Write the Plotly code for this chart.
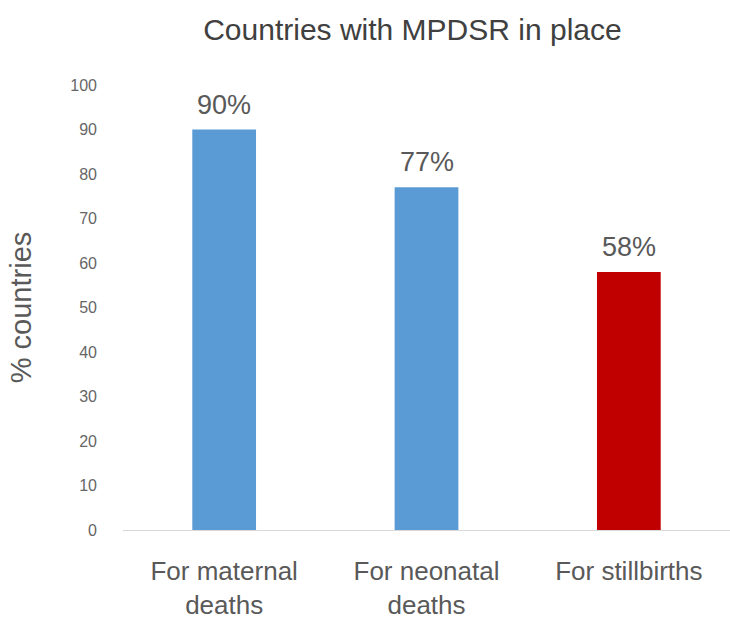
import plotly.graph_objects as go

categories = ["For maternal<br>deaths", "For neonatal<br>deaths", "For stillbirths"]
values = [90, 77, 58]
labels = ["90%", "77%", "58%"]
colors = ["#5B9BD5", "#5B9BD5", "#C00000"]
y_ticks = [0, 10, 20, 30, 40, 50, 60, 70, 80, 90, 100]

FONT = "Liberation Sans, Arial, sans-serif"
TEXT = "#595959"

fig = go.Figure(
    go.Bar(
        x=categories,
        y=values,
        marker=dict(color=colors, line=dict(width=0)),
        width=0.315,
        hoverinfo="x+y",
    )
)

# value labels above each bar
for cat, val, lab in zip(categories, values, labels):
    fig.add_annotation(
        x=cat,
        y=val,
        text=lab,
        showarrow=False,
        yanchor="bottom",
        yshift=8,
        font=dict(family=FONT, size=27, color=TEXT),
    )

fig.update_layout(
    width=730,
    height=624,
    margin=dict(l=123, r=0, t=85, b=94),
    paper_bgcolor="white",
    plot_bgcolor="white",
    showlegend=False,
    title=dict(
        text="Countries with MPDSR in place",
        x=0.565,
        xanchor="center",
        yref="container",
        y=1 - 29 / 624,
        yanchor="middle",
        font=dict(family=FONT, size=30, color="#404040"),
    ),
    font=dict(family=FONT, color=TEXT),
)

fig.update_yaxes(
    range=[0, 100],
    tickvals=y_ticks,
    showgrid=False,
    zeroline=False,
    showline=False,
    ticks="",
    ticklabelstandoff=25,
    tickfont=dict(family=FONT, size=16, color="#666666"),
    title=dict(text="% countries", font=dict(family=FONT, size=29, color=TEXT), standoff=30),
)

fig.update_xaxes(
    showgrid=False,
    showline=True,
    linecolor="#D9D9D9",
    linewidth=1,
    ticks="",
    ticklabelstandoff=18,
    tickfont=dict(family=FONT, size=26, color=TEXT),
)

fig.write_html("out.html")
